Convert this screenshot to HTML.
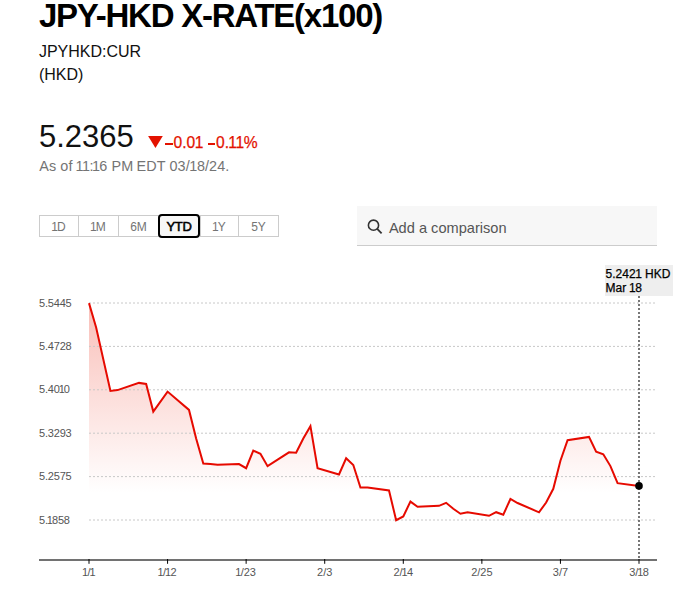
<!DOCTYPE html><html><head><meta charset="utf-8"><style>
html,body{margin:0;padding:0;background:#fff;width:700px;height:601px;overflow:hidden;position:relative}
.t{position:absolute;white-space:nowrap;line-height:1;font-family:"Liberation Sans",sans-serif;color:#000}
.btns{position:absolute;left:39px;top:215px;height:22px;}
.b{position:absolute;top:215px;height:20px;border:1px solid #ccc;box-sizing:content-box;font-family:"Liberation Sans",sans-serif;font-size:12px;color:#747474;text-align:center;line-height:23px}
.search{position:absolute;left:357px;top:206px;width:300px;height:39px;background:#f7f7f7;border-bottom:1px solid #ccc}
.tip{position:absolute;left:605px;top:265px;width:68px;height:30.5px;background:#eee}
</style></head><body>
<div class="search"></div>
<div class="tip"></div>
<svg width="700" height="601" viewBox="0 0 700 601" style="position:absolute;left:0;top:0">
<defs><linearGradient id="g" x1="0" y1="303" x2="0" y2="493" gradientUnits="userSpaceOnUse"><stop offset="0" stop-color="#ea1800" stop-opacity="0.28"/><stop offset="1" stop-color="#ea1800" stop-opacity="0"/></linearGradient></defs>
<path d="M89.00,560 L89.00,303.10 L96.14,327.50 L110.43,390.90 L117.57,390.10 L139.00,382.90 L146.14,384.00 L153.29,411.60 L167.57,391.60 L189.00,409.90 L196.14,438.50 L203.29,463.60 L210.43,464.00 L217.57,464.70 L239.00,464.10 L246.14,468.20 L253.29,450.60 L260.43,453.80 L267.57,466.20 L289.00,452.30 L296.14,452.80 L303.29,438.50 L310.43,426.20 L317.57,468.20 L339.00,474.50 L346.14,458.30 L353.29,465.00 L360.43,487.60 L367.57,487.60 L389.00,490.50 L396.14,520.20 L403.29,516.40 L410.43,501.60 L417.57,506.80 L439.00,505.80 L446.14,502.80 L453.29,508.80 L460.43,513.70 L467.57,512.20 L489.00,515.80 L496.14,512.20 L503.29,514.70 L510.43,499.00 L517.57,503.00 L539.00,512.30 L546.14,502.50 L553.29,488.80 L560.43,460.70 L567.57,440.20 L589.00,436.90 L596.14,451.60 L603.29,454.30 L610.43,466.10 L617.57,483.20 L639.00,485.90 L639.00,560 Z" fill="url(#g)"/>
<line x1="89" y1="303.0" x2="655" y2="303.0" stroke="#c8c8c8" stroke-width="1" stroke-dasharray="2,2"/>
<line x1="89" y1="346.4" x2="655" y2="346.4" stroke="#c8c8c8" stroke-width="1" stroke-dasharray="2,2"/>
<line x1="89" y1="389.8" x2="655" y2="389.8" stroke="#c8c8c8" stroke-width="1" stroke-dasharray="2,2"/>
<line x1="89" y1="433.2" x2="655" y2="433.2" stroke="#c8c8c8" stroke-width="1" stroke-dasharray="2,2"/>
<line x1="89" y1="476.6" x2="655" y2="476.6" stroke="#c8c8c8" stroke-width="1" stroke-dasharray="2,2"/>
<line x1="89" y1="520.0" x2="655" y2="520.0" stroke="#c8c8c8" stroke-width="1" stroke-dasharray="2,2"/>
<polyline points="89.00,303.10 96.14,327.50 110.43,390.90 117.57,390.10 139.00,382.90 146.14,384.00 153.29,411.60 167.57,391.60 189.00,409.90 196.14,438.50 203.29,463.60 210.43,464.00 217.57,464.70 239.00,464.10 246.14,468.20 253.29,450.60 260.43,453.80 267.57,466.20 289.00,452.30 296.14,452.80 303.29,438.50 310.43,426.20 317.57,468.20 339.00,474.50 346.14,458.30 353.29,465.00 360.43,487.60 367.57,487.60 389.00,490.50 396.14,520.20 403.29,516.40 410.43,501.60 417.57,506.80 439.00,505.80 446.14,502.80 453.29,508.80 460.43,513.70 467.57,512.20 489.00,515.80 496.14,512.20 503.29,514.70 510.43,499.00 517.57,503.00 539.00,512.30 546.14,502.50 553.29,488.80 560.43,460.70 567.57,440.20 589.00,436.90 596.14,451.60 603.29,454.30 610.43,466.10 617.57,483.20 639.00,485.90" fill="none" stroke="#e60a00" stroke-width="2" stroke-linejoin="miter"/>
<line x1="39" y1="560" x2="657" y2="560" stroke="#727272" stroke-width="2"/>
<line x1="89.00" y1="559" x2="89.00" y2="563.8" stroke="#000" stroke-width="1"/>
<line x1="167.57" y1="559" x2="167.57" y2="563.8" stroke="#000" stroke-width="1"/>
<line x1="246.14" y1="559" x2="246.14" y2="563.8" stroke="#000" stroke-width="1"/>
<line x1="324.71" y1="559" x2="324.71" y2="563.8" stroke="#000" stroke-width="1"/>
<line x1="403.29" y1="559" x2="403.29" y2="563.8" stroke="#000" stroke-width="1"/>
<line x1="481.86" y1="559" x2="481.86" y2="563.8" stroke="#000" stroke-width="1"/>
<line x1="560.43" y1="559" x2="560.43" y2="563.8" stroke="#000" stroke-width="1"/>
<line x1="639.00" y1="559" x2="639.00" y2="563.8" stroke="#000" stroke-width="1"/>
<line x1="639.00" y1="296" x2="639.00" y2="560" stroke="#555" stroke-width="1.6" stroke-dasharray="2,2"/>
<circle cx="639.00" cy="485.9" r="3.8" fill="#000"/>
<path d="M148.1,136.1 L162.8,136.1 L155.45,148.0 Z" fill="#e31200"/>
<circle cx="373.5" cy="225.2" r="5.1" fill="none" stroke="#333" stroke-width="1.6"/>
<line x1="377.2" y1="228.9" x2="381.6" y2="233.4" stroke="#333" stroke-width="1.8"/>
</svg>
<div class="t" style="left:39px;top:-1.33px;font-size:33px;font-weight:bold;letter-spacing:-1.25px">JPY-HKD X-RATE(x100)</div>
<div class="t" style="left:38.9px;top:43.76px;font-size:16px;color:#111">JPYHKD:CUR</div>
<div class="t" style="left:38.9px;top:67.46px;font-size:16px;color:#111">(HKD)</div>
<div class="t" style="left:39px;top:120.66px;font-size:31px;color:#111">5.2365</div>
<div style="position:absolute;left:165.2px;top:142.7px;width:7.5px;height:2.1px;background:#e31200"></div>
<div style="position:absolute;left:208.1px;top:142.8px;width:7.2px;height:2.1px;background:#e31200"></div>
<div class="t" style="left:173.5px;top:134.99px;font-size:15.6px;color:#e31200;-webkit-text-stroke:0.25px #e31200">0.0<span style="margin-left:-0.36px;margin-right:-0.24px">1</span></div>
<div class="t" style="left:216.0px;top:134.99px;font-size:15.6px;color:#e31200;-webkit-text-stroke:0.25px #e31200">0.<span style="margin-left:-0.84px;margin-right:-0.56px">1</span><span style="margin-left:-0.84px;margin-right:-0.56px">1</span>%</div>
<div class="t" style="left:39.2px;top:158.71px;font-size:14.4px;color:#747474;letter-spacing:0.1px">As of <span style="margin-left:-1.02px;margin-right:-0.68px">1</span><span style="margin-left:-1.02px;margin-right:-0.68px">1</span><span style="letter-spacing:-0.5px">:</span><span style="margin-left:-1.02px;margin-right:-0.68px">1</span>6 P<span style="letter-spacing:-0.8px">M</span> EDT 03/<span style="margin-left:-0.60px;margin-right:-0.40px">1</span>8/24.</div>
<div class="b" style="left:39px;width:38px"><span style="margin-left:-1.20px;margin-right:-0.80px">1</span>D</div>
<div class="b" style="left:78px;width:39px"><span style="margin-left:-1.20px;margin-right:-0.80px">1</span>M</div>
<div class="b" style="left:118px;width:39px">6M</div>
<div class="b" style="left:200px;width:37px"><span style="margin-left:-1.20px;margin-right:-0.80px">1</span>Y</div>
<div class="b" style="left:238px;width:39px">5Y</div>
<div class="b" style="left:158px;top:214px;width:38px;height:20px;border:2px solid #000;border-radius:4px;background:#f7f7f7;color:#000;font-weight:normal;-webkit-text-stroke:0.55px #000;font-size:13px;line-height:21px;letter-spacing:-0.3px">YTD</div>
<div class="t" style="left:388.9px;top:221.04px;font-size:14.6px;color:#555">Add a comparison</div>
<div class="t" style="left:605.6px;top:267.74px;font-size:12px;color:#000;-webkit-text-stroke:0.25px #000">5.242<span style="margin-left:-0.36px;margin-right:-0.24px">1</span> HKD</div>
<div class="t" style="left:605.6px;top:282.34px;font-size:12px;color:#000;-webkit-text-stroke:0.25px #000">Mar <span style="margin-left:-0.60px;margin-right:-0.40px">1</span>8</div>
<div class="t" style="left:39.1px;top:297.59px;font-size:11px;color:#555;letter-spacing:-0.2px">5.5445</div>
<div class="t" style="left:39.1px;top:340.99px;font-size:11px;color:#555;letter-spacing:-0.2px">5.4728</div>
<div class="t" style="left:39.1px;top:384.39px;font-size:11px;color:#555;letter-spacing:-0.2px">5.40<span style="margin-left:-1.08px;margin-right:-0.72px">1</span>0</div>
<div class="t" style="left:39.1px;top:427.79px;font-size:11px;color:#555;letter-spacing:-0.2px">5.3293</div>
<div class="t" style="left:39.1px;top:471.19px;font-size:11px;color:#555;letter-spacing:-0.2px">5.2575</div>
<div class="t" style="left:39.1px;top:514.59px;font-size:11px;color:#555;letter-spacing:-0.2px">5.<span style="margin-left:-1.08px;margin-right:-0.72px">1</span>858</div>
<div class="t" style="left:59.00px;width:60px;text-align:center;top:566.99px;font-size:11px;color:#555"><span style="margin-left:-1.02px;margin-right:-0.68px">1</span>/<span style="margin-left:-1.02px;margin-right:-0.68px">1</span></div>
<div class="t" style="left:137.57px;width:60px;text-align:center;top:566.99px;font-size:11px;color:#555"><span style="margin-left:-1.02px;margin-right:-0.68px">1</span>/<span style="margin-left:-1.02px;margin-right:-0.68px">1</span>2</div>
<div class="t" style="left:216.14px;width:60px;text-align:center;top:566.99px;font-size:11px;color:#555"><span style="margin-left:-1.02px;margin-right:-0.68px">1</span>/23</div>
<div class="t" style="left:294.71px;width:60px;text-align:center;top:566.99px;font-size:11px;color:#555">2/3</div>
<div class="t" style="left:373.29px;width:60px;text-align:center;top:566.99px;font-size:11px;color:#555">2/<span style="margin-left:-1.02px;margin-right:-0.68px">1</span>4</div>
<div class="t" style="left:451.86px;width:60px;text-align:center;top:566.99px;font-size:11px;color:#555">2/25</div>
<div class="t" style="left:530.43px;width:60px;text-align:center;top:566.99px;font-size:11px;color:#555">3/7</div>
<div class="t" style="left:609.00px;width:60px;text-align:center;top:566.99px;font-size:11px;color:#555">3/<span style="margin-left:-1.02px;margin-right:-0.68px">1</span>8</div>
</body></html>
